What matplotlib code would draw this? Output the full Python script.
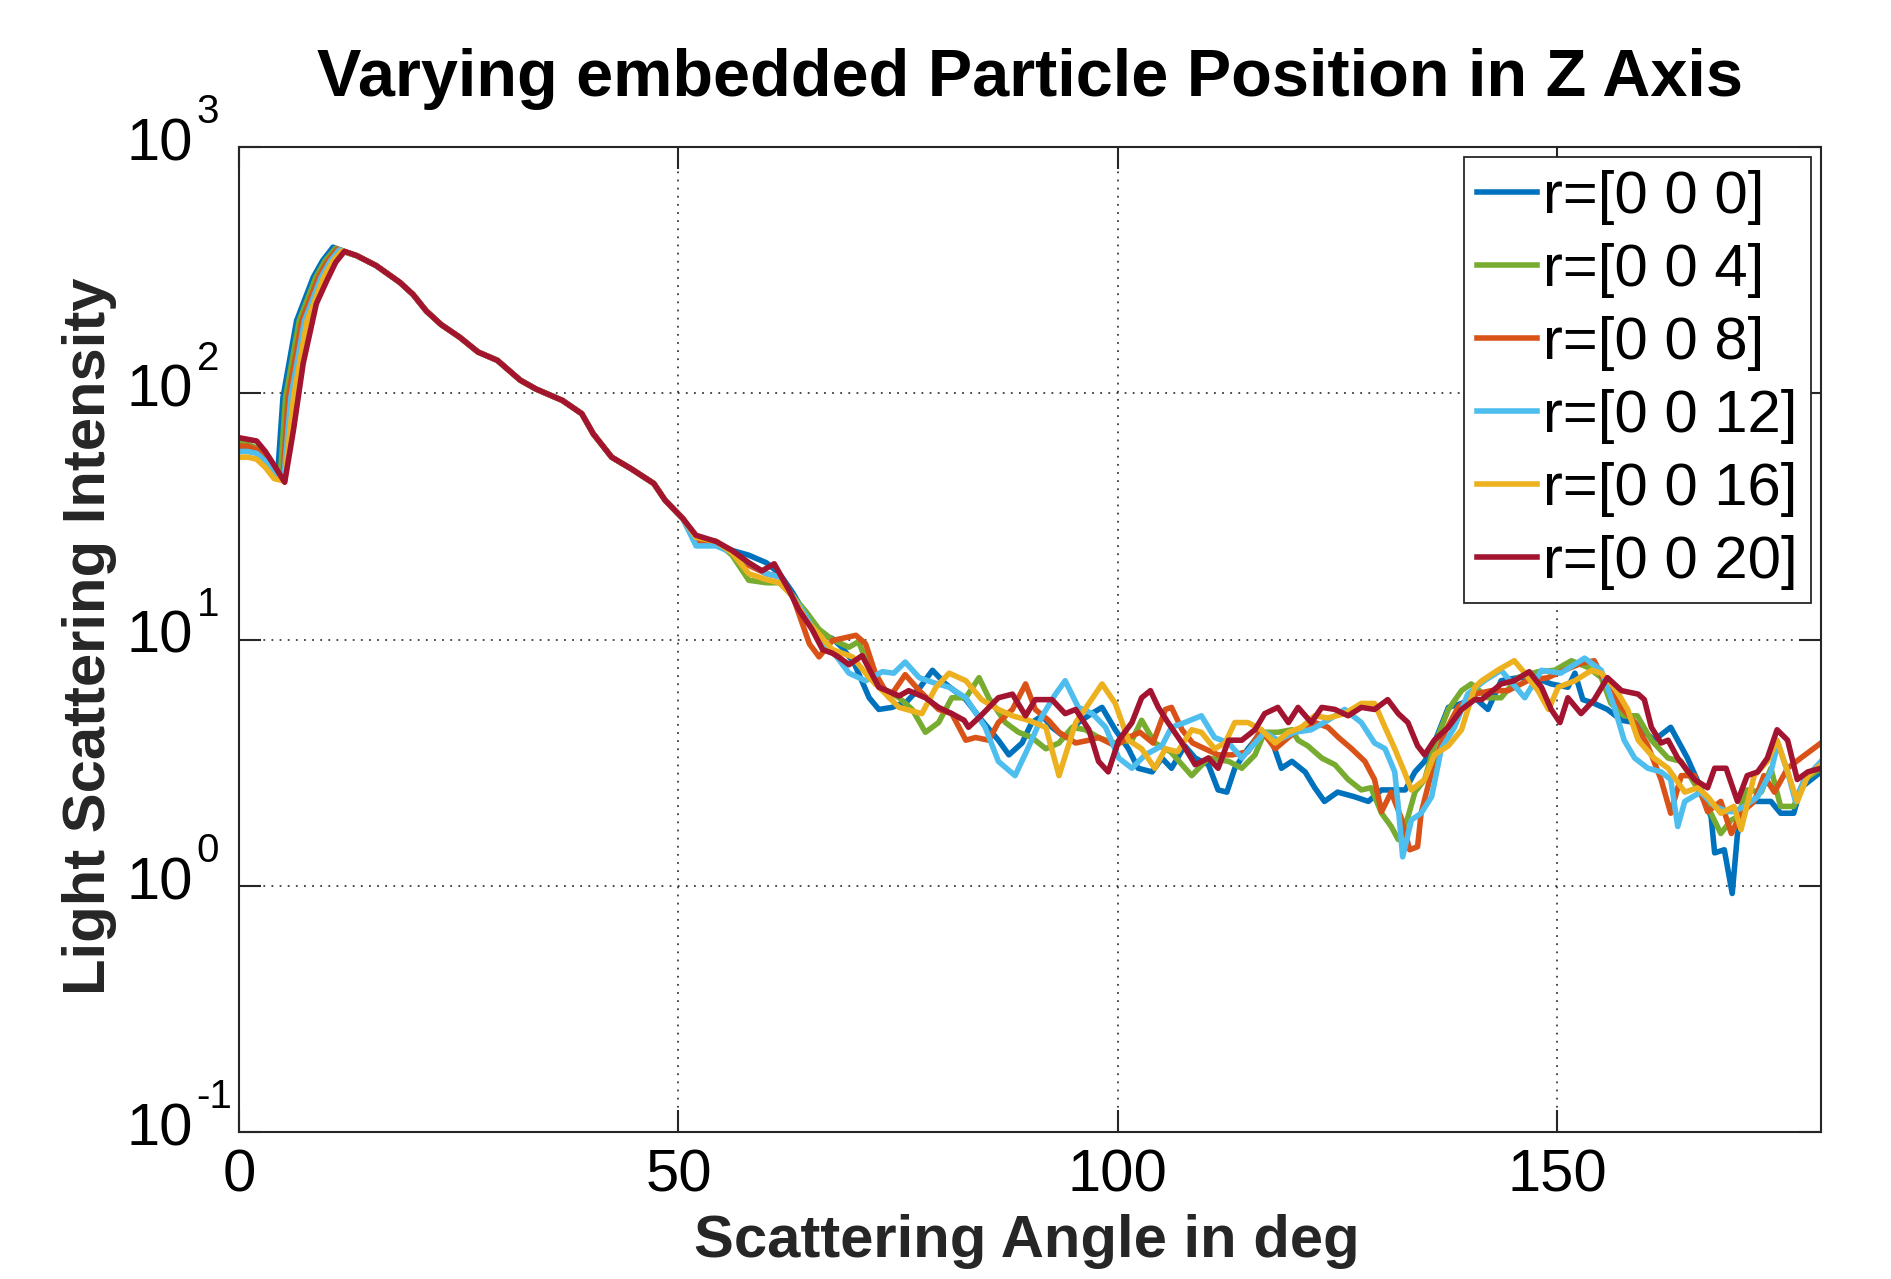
import matplotlib
matplotlib.use("Agg")
import matplotlib.pyplot as plt
import numpy as np
from matplotlib.ticker import FixedLocator, FuncFormatter, NullFormatter

plt.rcParams['font.family'] = ['Liberation Sans', 'DejaVu Sans']

title = "Varying embedded Particle Position in Z Axis"
xlabel = "Scattering Angle in deg"
ylabel = "Light Scattering Intensity"
labels = ["r=[0 0 0]", "r=[0 0 4]", "r=[0 0 8]", "r=[0 0 12]", "r=[0 0 16]", "r=[0 0 20]"]
colors = ["#0072BD", "#77AC30", "#D95319", "#4DBEEE", "#EDB120", "#A2142F"]

# shared portion (all curves overlap), 13-51 deg
ang_common = [13.4, 15.6, 18.3, 19.8, 21.3, 23.0, 25.1, 27.2, 29.4, 32.0, 33.8, 36.8, 39.0, 40.3, 42.4, 44.6, 47.2, 48.5, 50.5]
val_common = [362, 330, 282, 252, 216, 190, 169, 147, 136, 113, 104, 93.5, 82.6, 68.5, 55, 49.4, 43, 36.7, 31]

# per-series: forward lobe (0-13 deg)
ang_f0 = [0, 1, 2, 3, 4, 4.4, 5.0, 6.55, 8.45, 9.5, 10.7, 12.0]
val_f0 = [61, 60, 59, 54, 48, 47, 96, 197, 296, 345, 392, 375]
ang_f4 = [0, 1, 2, 3, 4, 4.7, 5.3, 6.85, 8.75, 9.8, 11.0, 12.2]
val_f4 = [63, 62, 60, 55, 49, 46, 96, 197, 296, 345, 388, 374]
ang_f8 = [0, 1, 2, 3, 4, 5.0, 5.6, 7.15, 9.05, 10.1, 11.2, 12.3]
val_f8 = [61, 61, 59, 54, 48, 45.5, 96, 197, 296, 345, 385, 373]
ang_f12 = [0, 1, 2, 3, 4, 5.1, 5.9, 7.45, 9.35, 10.4, 11.4, 12.4]
val_f12 = [58, 58, 57, 53, 48, 45, 96, 197, 296, 345, 382, 372]
ang_f16 = [0, 1, 2, 3, 4, 5.2, 6.2, 7.75, 9.65, 10.7, 11.7, 12.5]
val_f16 = [55, 55, 54, 50, 45, 44, 96, 197, 296, 345, 378, 371]
ang_f20 = [0, 1, 2, 3, 4, 5.2, 6.2, 7.3, 8.8, 10.0, 11.0, 12.0]
val_f20 = [66, 65, 64, 58, 51, 43.5, 71, 132, 231, 287, 340, 377]

# per-series: side and back scattering (52-180 deg)
ang_b0 = [52, 54.3, 56.1, 58, 60, 61.5, 63, 64.5, 66, 67.5, 68.6, 70, 71.7, 72.8, 74.3, 76, 77.5, 78.9, 80.4, 82.7,
          84.5, 86.4, 87.6, 89.1, 90.2, 91.4, 92.5, 94, 95.5, 97, 98.2, 99.7, 101.2, 102.3, 103.9, 105, 106.1, 107.6,
          108.8, 110.3, 111.4, 112.4, 113.3, 114.8, 116.3, 117.5, 118.6, 119.8, 121.3, 122.4, 123.5, 125, 126.9,
          128.5, 130, 131.5, 132.7, 133.8, 134.9, 136, 137.6, 139.1, 140.6, 142.1, 143.6, 145.5, 147.4, 149.3, 151.2,
          152, 152.9, 154.2, 155.7, 157.3, 158.8, 161, 162.9, 164.8, 166.3, 167.5, 167.9, 169, 169.9, 170.5, 171.6,
          172.8, 174.3, 175.4, 176.9, 177.7, 180]
val_b0 = [24.5, 24.5, 23, 22, 20.5, 18.5, 15.5, 12.5, 10.5, 10.1, 9.3, 8.0, 5.8, 5.2, 5.3, 5.6, 6.4, 7.5, 6.6, 5.7,
          4.7, 3.9, 3.4, 3.8, 4.6, 4.9, 4.4, 4.0, 4.6, 5.0, 5.3, 4.3, 3.6, 3.0, 2.9, 3.3, 3.0, 3.7,
          3.3, 3.1, 2.45, 2.4, 3.0, 3.6, 4.2, 3.9, 3.0, 3.2, 2.9, 2.5, 2.2, 2.4, 2.3,
          2.2, 2.45, 2.45, 2.45, 2.9, 3.2, 3.8, 5.3, 5.5, 5.8, 5.2, 6.8, 7.0, 7.0, 6.6, 6.4,
          7.3, 5.7, 5.5, 5.2, 4.7, 4.6, 3.9, 4.4, 3.3, 2.5, 1.9, 1.36, 1.4, 0.93, 1.63, 2.2,
          2.2, 2.2, 1.97, 1.97, 2.5, 2.9]

ang_b4 = [52, 54.3, 56.1, 58, 60, 61.5, 63, 64.5, 66, 67.5, 69.4, 70.5, 72.4, 75.1, 76.6, 78.1, 79.6, 81.1, 82.7,
          84.2, 85.3, 87.2, 88.7, 90.2, 91.8, 93.3, 94.8, 96.3, 97.8, 99.5, 101.6, 102.7, 104.2, 106, 108.4, 110.3,
          112.6, 114.1, 115.6, 116.7, 118.2, 119.8, 120.5, 121.6, 123.2, 124.7, 126.2, 127.7, 128.8, 130, 131.1,
          131.9, 133, 133.8, 134.9, 136, 137.6, 139.1, 140.2, 142.1, 143.6, 145.5, 147.8, 149.7, 151.6, 153.5, 155,
          156.1, 157.6, 159.1, 160.7, 162.6, 164.1, 165.6, 167.1, 168.6, 169.8, 170.5, 171.6, 173.2, 174.3, 175.4,
          176.9, 178.1, 180]
val_b4 = [26, 25, 22, 17.4, 17, 17, 15, 13, 11, 10, 9.3, 9.8, 6.6, 5.8, 5.2, 4.2, 4.6, 5.8, 5.8,
          7.0, 5.8, 4.6, 4.2, 4.0, 3.6, 3.8, 4.4, 4.3, 4.0, 3.8, 3.9, 4.7, 3.8, 3.5, 2.8, 3.3,
          3.2, 3.0, 3.4, 4.2, 4.2, 4.3, 3.9, 3.7, 3.3, 3.1, 2.7, 2.45, 2.5, 1.97, 1.74,
          1.54, 1.9, 2.4, 2.7, 3.7, 5.2, 6.2, 6.6, 5.8, 5.8, 7.0, 7.4, 7.5, 8.2, 7.7, 7.0,
          5.5, 4.9, 4.9, 3.9, 3.3, 3.2, 2.6, 2.1, 1.63, 1.85, 1.9, 2.45, 2.4, 3.0, 2.1,
          2.1, 2.7, 3.0]

ang_b8 = [52, 54.3, 56.1, 58, 60, 61.5, 63, 64.9, 66, 67.5, 70.2, 71.3, 72.4, 74, 75.8, 77.4, 79.6, 81.1, 82.7, 83.8,
          85.3, 86.4, 88, 89.5, 90.6, 92.1, 93.3, 95.2, 96.7, 97.8, 99.7, 101.2, 102.5, 104, 105.4, 106.1, 107.3,
          108.5, 109.9, 111.4, 113, 114.8, 116.3, 117.9, 119.4, 120.9, 122.4, 123.9, 125.1, 126.6, 128.1, 129.2, 130,
          131.1, 132.2, 133.2, 134.1, 134.5, 135.7, 137.2, 138.7, 140.6, 142.5, 144.4, 146.6, 148.9, 150.8, 152.7,
          154.2, 155.7, 157.3, 158.8, 160.3, 161.8, 162.9, 164.1, 165.6, 167.1, 168.6, 169.8, 170.9, 172.4, 173.5,
          174.7, 176.2, 177.7, 180]
val_b8 = [25, 24.5, 22.5, 20, 18.5, 18, 15, 9.6, 8.5, 9.9, 10.4, 9.6, 7.3, 5.8, 7.2, 6.2, 5.2, 5.0, 3.9, 4.0,
          3.9, 4.6, 5.2, 6.6, 5.2, 4.7, 4.2, 3.8, 3.9, 4.0, 3.7, 4.0, 4.2, 3.8, 5.2, 5.3, 4.3,
          3.8, 3.6, 3.4, 3.4, 3.5, 4.3, 3.6, 4.0, 4.4, 4.6, 4.4, 4.0, 3.6, 3.2, 2.7, 2.0,
          2.4, 1.9, 1.40, 1.44, 1.97, 2.9, 4.2, 5.3, 6.0, 6.2, 6.2, 6.8, 7.0, 7.5, 8.0,
          8.2, 6.4, 5.3, 4.6, 3.7, 2.7, 1.97, 2.8, 2.8, 2.0, 2.2, 1.63, 1.97, 2.2, 2.8,
          2.4, 3.0, 3.3, 3.8]

ang_b12 = [52, 54.3, 56.1, 58, 60, 61.5, 63, 64.5, 66, 67.5, 69.4, 71.3, 73.2, 74.5, 75.8, 77.4, 78.9, 80.8, 82.7,
           84.9, 86.4, 88.3, 89.9, 91.4, 92.9, 94, 95.5, 97.1, 98.6, 100.1, 101.6, 103.1, 105, 106.1, 107.6, 109.5,
           111, 112.6, 114.1, 115.6, 116.7, 118.2, 120.1, 122, 123.9, 125.8, 127.7, 129.2, 130.4, 131.5, 131.9, 132.4,
           133.4, 134.5, 135.7, 136.8, 138.3, 139.8, 141.7, 143.6, 146.3, 148.2, 150.4, 153.1, 155, 156.5, 157.6,
           158.8, 160.3, 161.8, 162.9, 163.7, 164.5, 166.3, 167.9, 169.4, 170.1, 171.3, 172.8, 174.3, 175.1, 176.2,
           177.1, 178.1, 180]
val_b12 = [24, 24, 22.5, 20.5, 18.5, 18, 15, 12.5, 10, 9.0, 7.3, 6.8, 7.4, 7.3, 8.1, 7.0, 6.7, 6.4, 5.8,
           4.4, 3.2, 2.8, 3.7, 4.9, 6.0, 6.8, 5.3, 5.0, 4.4, 3.3, 3.0, 3.4, 3.7, 4.4, 4.6, 4.9,
           4.0, 3.8, 3.3, 3.8, 4.2, 3.9, 4.2, 4.3, 4.7, 5.2, 4.6, 3.8, 3.6, 2.9, 2.1, 1.31,
           1.85, 1.97, 2.3, 3.6, 4.4, 6.0, 6.8, 7.5, 5.8, 7.5, 7.3, 8.4, 7.5, 5.3, 3.9,
           3.3, 3.0, 2.9, 2.7, 1.74, 2.2, 2.4, 2.1, 2.0, 2.0, 2.1, 2.3, 2.9, 3.8, 2.9,
           2.2, 2.7, 3.2]

ang_b16 = [52, 54.3, 56.1, 58, 60, 61.5, 63, 64.5, 66, 67.5, 69.8, 71.7, 73.6, 75.1, 77.7, 79.3, 80.8, 82.7, 84.5,
           86.4, 88, 89.8, 91.8, 93.3, 95.2, 96.7, 98.2, 99.7, 101.2, 102.7, 104.2, 105.4, 106.8, 108.4, 109.5, 111,
           112.2, 113.3, 114.8, 116.3, 117.9, 119.4, 120.9, 122.4, 123.9, 125.8, 127.7, 129.2, 130.4, 131.5, 132.6,
           133.4, 134.9, 136, 137.6, 139.1, 140.6, 141.4, 143.2, 145.1, 146.3, 147.8, 149, 150.1, 152, 153.9, 155,
           156.5, 158, 159.2, 161, 162.6, 164.5, 166, 167.1, 168.6, 170.1, 170.9, 172.4, 173.9, 175, 176.2, 177.3,
           178.5, 180]
val_b16 = [26, 25, 22.5, 18.5, 17.5, 17, 15, 12, 10.5, 9.1, 8.5, 7.0, 6.0, 5.3, 5.0, 6.4, 7.3, 6.8, 5.7,
           5.2, 4.9, 4.7, 4.4, 2.8, 4.6, 5.5, 6.6, 5.5, 3.9, 3.6, 3.0, 3.6, 3.5, 4.3, 4.2, 3.6,
           3.8, 4.6, 4.6, 4.3, 3.8, 4.2, 4.4, 4.9, 4.8, 5.0, 5.5, 5.5, 4.4, 3.6, 2.9,
           2.45, 2.7, 3.4, 3.7, 4.3, 6.4, 6.8, 7.5, 8.2, 7.3, 6.2, 5.2, 6.4, 6.8, 7.5, 7.3,
           6.4, 5.2, 3.9, 3.3, 3.0, 2.4, 2.5, 2.3, 1.97, 2.1, 1.69, 2.8, 3.2, 3.9, 2.9, 2.2,
           2.8, 3.1]

ang_b20 = [52, 54.3, 56.1, 58, 59.5, 60.9, 62.6, 63.7, 65.2, 66.4, 67.5, 68.2, 69.4, 70.9, 72.8, 75.1, 76.2, 78.1,
           79.6, 81.1, 82.5, 83, 84.4, 86.4, 88, 89.5, 90.6, 92.5, 94, 95.2, 96.7, 97.8, 98.9, 100.1, 101.6, 102.7,
           103.7, 104.6, 105.7, 107.3, 108.8, 110.3, 111.4, 112.6, 114.1, 115.6, 116.7, 118.2, 119.4, 120.5, 122,
           123.2, 124.7, 126.2, 127.7, 129.2, 130.7, 131.9, 133, 134.1, 134.9, 136, 137.6, 139.1, 140.6, 141.4,
           143.6, 145.1, 146.8, 148.2, 149.3, 150.3, 151.2, 152.7, 154.2, 155.7, 157.3, 159.2, 159.9, 160.7, 161.8,
           162.6, 163.7, 165.6, 167.1, 167.9, 169.2, 170.5, 171.6, 172.8, 173.9, 175, 176.2, 177.3, 178.5, 180]
val_b20 = [26.5, 25, 23, 20.5, 19, 20.3, 15.8, 13.2, 11, 9.1, 8.8, 8.5, 7.9, 8.6, 6.4, 5.9, 6.2, 5.8,
           5.3, 5.0, 4.7, 4.4, 4.9, 5.8, 6.0, 4.9, 5.7, 5.7, 5.0, 5.2, 4.3, 3.2, 2.9, 3.9, 4.6, 5.8,
           6.2, 5.3, 4.6, 3.8, 3.1, 3.3, 3.0, 3.9, 3.9, 4.3, 5.0, 5.3, 4.6, 5.3, 4.6,
           5.3, 5.2, 4.9, 5.3, 5.2, 5.7, 5.0, 4.6, 3.7, 3.4, 3.9, 4.4, 5.2, 5.7, 5.7,
           6.6, 6.8, 7.4, 6.4, 5.2, 4.6, 5.8, 5.0, 5.7, 7.0, 6.2, 6.0, 5.7, 4.4, 3.8,
           3.9, 3.3, 2.7, 2.5, 3.0, 3.0, 2.2, 2.8, 2.9, 3.3, 4.3, 3.9, 2.7, 2.9, 3.0]

fwd = [(ang_f0, val_f0), (ang_f4, val_f4), (ang_f8, val_f8), (ang_f12, val_f12), (ang_f16, val_f16), (ang_f20, val_f20)]
back = [(ang_b0, val_b0), (ang_b4, val_b4), (ang_b8, val_b8), (ang_b12, val_b12), (ang_b16, val_b16), (ang_b20, val_b20)]

xticks = [0, 50, 100, 150]
ytick_exp = [-1, 0, 1, 2, 3]
yticks = [10.0 ** e for e in ytick_exp]

fig = plt.figure(figsize=(18.91, 12.79), dpi=100)
ax = fig.add_axes([239 / 1891, 1 - 1132 / 1279, (1821 - 239) / 1891, (1132 - 147) / 1279])

for (af, vf), (ab, vb), lab, col in zip(fwd, back, labels, colors):
    x = list(af) + ang_common + list(ab)
    y = list(vf) + val_common + list(vb)
    ax.plot(x, y, color=col, lw=4.0, label=lab)

ax.set_yscale('log')
ax.set_xlim(0, 180)
ax.set_ylim(0.1, 1000)
ax.xaxis.set_major_locator(FixedLocator(xticks))
ax.yaxis.set_major_locator(FixedLocator(yticks))
ax.yaxis.set_minor_locator(FixedLocator([]))
ax.xaxis.set_major_formatter(FuncFormatter(lambda v, p: f"{int(v)}"))
ax.yaxis.set_major_formatter(NullFormatter())
ax.tick_params(axis='both', which='major', direction='in', length=16, width=1.5, labelsize=43,
               top=True, right=True, pad=12, colors='#262626', labelcolor='black')
ax.tick_params(which='minor', left=False, right=False)
ax.grid(True, which='major', linestyle=(0, (1, 3.5)), color='#262626', linewidth=1.3, alpha=0.9)
for s in ax.spines.values():
    s.set_linewidth(1.5)
    s.set_color('#262626')

# MATLAB-style log tick labels: "10" with a raised exponent
for e, v in zip(ytick_exp, yticks):
    ax.annotate("10", xy=(0, v), xycoords=('axes fraction', 'data'), xytext=(-33, 1.5),
                textcoords='offset points', ha='right', va='center', fontsize=43, annotation_clip=False)
    ax.annotate(str(e), xy=(0, v), xycoords=('axes fraction', 'data'), xytext=(-30.5, 25),
                textcoords='offset points', ha='left', va='center', fontsize=29, annotation_clip=False)

ax.set_title(title, fontsize=48, fontweight='bold', pad=37)
ax.set_xlabel(xlabel, fontsize=43, fontweight='bold', color='#262626')
ax.set_ylabel(ylabel, fontsize=43, fontweight='bold', color='#262626')
ax.xaxis.set_label_coords(((697 + 1357) / 2 - 239) / 1582, -0.083)
ax.yaxis.set_label_coords(-0.077, 0.5 + ((1132 + 147) / 2 - (277 + 995) / 2) / 985)

leg = ax.legend(loc='upper right', fontsize=43, frameon=True, fancybox=False, framealpha=1,
                edgecolor='#262626', handlelength=1.0, handletextpad=0.1, labelspacing=0.30,
                borderaxespad=0.17, borderpad=0.22)
leg.get_frame().set_linewidth(1.3)

fig.savefig("out.png", dpi=100)
